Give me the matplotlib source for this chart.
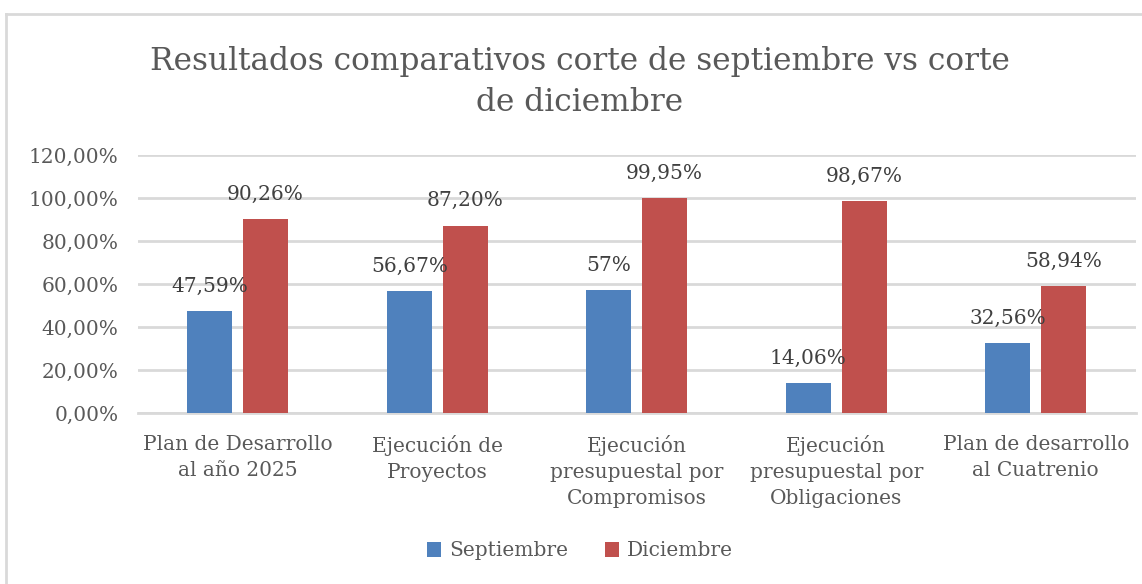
import numpy as np
import matplotlib.pyplot as plt
from matplotlib.lines import Line2D

# data
categories = ["Plan de Desarrollo\nal año 2025", "Ejecución de\nProyectos",
              "Ejecución\npresupuestal por\nCompromisos",
              "Ejecución\npresupuestal por\nObligaciones",
              "Plan de desarrollo\nal Cuatrenio"]
septiembre = [47.59, 56.67, 57.0, 14.06, 32.56]
diciembre = [90.26, 87.20, 99.95, 98.67, 58.94]
sept_labels = ["47,59%", "56,67%", "57%", "14,06%", "32,56%"]
dic_labels = ["90,26%", "87,20%", "99,95%", "98,67%", "58,94%"]
yticks = [0, 20, 40, 60, 80, 100, 120]

blue = "#4f81bd"
red = "#c0504d"
gray = "#595959"
plt.rcParams['font.family'] = ['DejaVu Serif']

fig = plt.figure(figsize=(11.42, 5.84), dpi=100)
ax = fig.add_axes([138 / 1142, 1 - 413 / 584, 997.5 / 1142, 258 / 584])

x = np.arange(len(categories))
w = 0.226
off = 0.14
b1 = ax.bar(x - off, septiembre, w, color=blue, label="Septiembre", zorder=3)
b2 = ax.bar(x + off, diciembre, w, color=red, label="Diciembre", zorder=3)

for xi, v, t in zip(x, septiembre, sept_labels):
    ax.text(xi - off, v + 11.5, t, ha="center", va="center", fontsize=14.5, color="#404040")
for xi, v, t in zip(x, diciembre, dic_labels):
    ax.text(xi + off, v + 11.5, t, ha="center", va="center", fontsize=14.5, color="#404040")

ax.set_xlim(-0.5, 4.5)
ax.set_ylim(0, 120)
ax.set_yticks(yticks)
ax.set_yticklabels([f"{v},00%" for v in yticks], fontsize=14.5, color=gray)
ax.set_xticks(x)
ax.set_xticklabels(categories, fontsize=14.5, color=gray, linespacing=1.45, va="top")
ax.tick_params(axis="both", length=0)
ax.tick_params(axis="y", pad=14)
ax.tick_params(axis="x", pad=16)
ax.grid(axis="y", color="#d9d9d9", linewidth=2, zorder=0)
for s in ["top", "right", "left"]:
    ax.spines[s].set_visible(False)
ax.spines["bottom"].set_color("#d9d9d9")
ax.spines["bottom"].set_linewidth(2)

fig.text(580 / 1142, 1 - 82 / 584,
         "Resultados comparativos corte de septiembre vs corte\nde diciembre",
         ha="center", va="center", fontsize=22.5, color=gray, linespacing=1.4)

fig.legend(handles=[b1, b2], loc="center", bbox_to_anchor=(580 / 1142, 1 - 551 / 584),
           ncol=2, frameon=False, fontsize=14.5, labelcolor=gray,
           handlelength=0.7, handleheight=0.7, handletextpad=0.4, columnspacing=1.8)

# chart frame
fig.add_artist(Line2D([6 / 1142, 6 / 1142], [0, 1 - 13.5 / 584], transform=fig.transFigure,
                      color="#d9d9d9", linewidth=2))
fig.add_artist(Line2D([6 / 1142, 1], [1 - 13.5 / 584, 1 - 13.5 / 584], transform=fig.transFigure,
                      color="#d9d9d9", linewidth=2))

fig.savefig("out.png", dpi=100)
